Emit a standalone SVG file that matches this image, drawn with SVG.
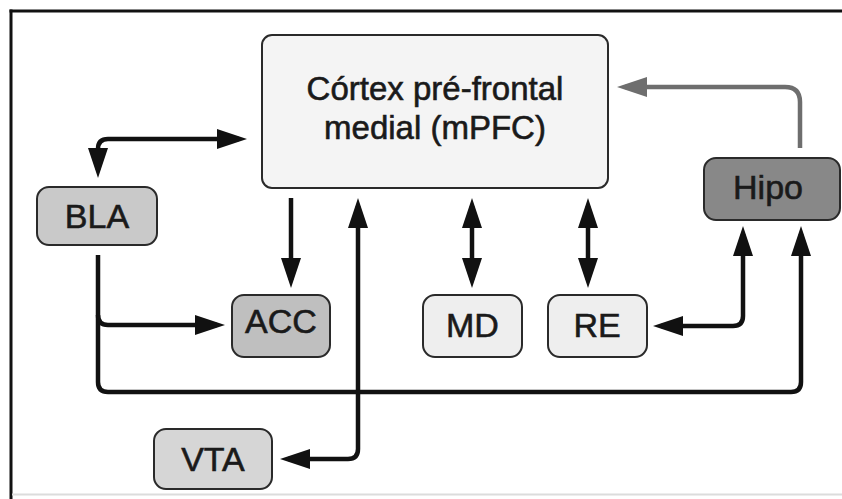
<svg xmlns="http://www.w3.org/2000/svg" width="842" height="499" viewBox="0 0 842 499">
<style>
.box{stroke:#2a2a2a;stroke-width:2}
.lbl{font-family:"Liberation Sans",Arial,sans-serif;font-size:34px;fill:#1a1a1a;stroke:#1a1a1a;stroke-width:0.6;text-anchor:middle}
.big{font-size:33px}
.c{fill:none;stroke:#111;stroke-width:4.5;stroke-linecap:butt}
.g{stroke:#6e6e6e}
</style>
<defs>
<marker id="ah" markerUnits="userSpaceOnUse" markerWidth="30" markerHeight="20" refX="22" refY="10" orient="auto-start-reverse" viewBox="0 0 30 20">
<path d="M0,0 L30,10 L0,20 z" fill="#111"/>
</marker>
<marker id="ahg" markerUnits="userSpaceOnUse" markerWidth="30" markerHeight="20" refX="22" refY="10" orient="auto-start-reverse" viewBox="0 0 30 20">
<path d="M0,0 L30,10 L0,20 z" fill="#6e6e6e"/>
</marker>
</defs>
<rect width="842" height="499" fill="#fff"/>
<g id="frame">
<line x1="9.5" y1="11" x2="842" y2="11" stroke="#111" stroke-width="3"/>
<line x1="11" y1="9.5" x2="11" y2="499" stroke="#111" stroke-width="3"/>
<line x1="12" y1="494.5" x2="842" y2="494.5" stroke="#dcdcdc" stroke-width="2"/>
</g>
<g id="connectors">
<path class="c" d="M98,170 V149 Q98,139 108,139 H239" marker-start="url(#ah)" marker-end="url(#ah)"/>
<path class="c" d="M291,198 V280" marker-end="url(#ah)"/>
<path class="c" d="M358,206 V449 Q358,459 348,459 H288" marker-start="url(#ah)" marker-end="url(#ah)"/>
<path class="c" d="M472,206 V280" marker-start="url(#ah)" marker-end="url(#ah)"/>
<path class="c" d="M588,206 V280" marker-start="url(#ah)" marker-end="url(#ah)"/>
<path class="c" d="M661,326 H733 Q743,326 743,316 V234" marker-start="url(#ah)" marker-end="url(#ah)"/>
<path class="c" d="M98,255 V382 Q98,392 108,392 H791 Q801,392 801,382 V234" marker-end="url(#ah)"/>
<path class="c" d="M98,315 Q98,325 108,325 H217" marker-end="url(#ah)"/>
<path class="c g" d="M800,148 V102 Q800,87 785,87 H625" marker-end="url(#ahg)"/>
</g>
<g id="mPFC">
<rect class="box" x="262" y="35" width="346" height="153" rx="10" fill="#f4f4f4"/>
<text class="lbl big" x="435" y="100">Córtex pré-frontal</text>
<text class="lbl big" x="435" y="139">medial (mPFC)</text>
</g>
<g id="BLA">
<rect class="box" x="37" y="187" width="120" height="58" rx="12" fill="#c9c9c9"/>
<text class="lbl" x="97" y="228">BLA</text>
</g>
<g id="Hipo">
<rect class="box" x="704" y="158" width="136" height="62" rx="12" fill="#888888"/>
<text class="lbl" x="768" y="199">Hipo</text>
</g>
<g id="ACC">
<rect class="box" x="232" y="295" width="98" height="62" rx="12" fill="#bfbfbf"/>
<text class="lbl" x="281" y="333">ACC</text>
</g>
<g id="MD">
<rect class="box" x="423" y="295" width="99" height="62" rx="12" fill="#eeeeee"/>
<text class="lbl" x="472.5" y="337">MD</text>
</g>
<g id="RE">
<rect class="box" x="548" y="295" width="99" height="62" rx="12" fill="#eeeeee"/>
<text class="lbl" x="597" y="337">RE</text>
</g>
<g id="VTA">
<rect class="box" x="154" y="429" width="118" height="60" rx="12" fill="#d6d6d6"/>
<text class="lbl" x="213" y="471">VTA</text>
</g>
</svg>
